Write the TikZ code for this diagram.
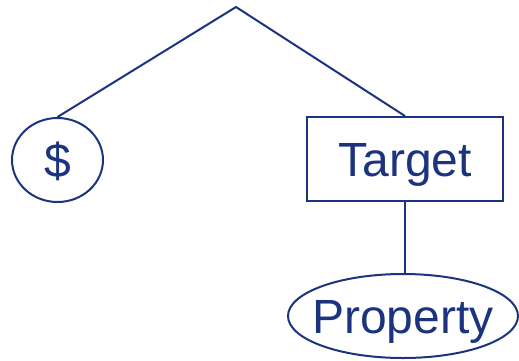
\documentclass[tikz,border=0pt]{standalone}
\usepackage{fontspec}
\setmainfont{Liberation Sans}
\usetikzlibrary{shapes.geometric}
\definecolor{navy}{RGB}{28,52,128}
\begin{document}
\begin{tikzpicture}[x=1pt,y=-1pt,
  link/.style={draw=navy,line width=2pt},
  label/.style={text=navy,font=\fontsize{48}{52}\selectfont,text height=34pt,text depth=0pt,inner sep=0pt},
  oval/.style={ellipse,draw=navy,line width=2pt,label},
  box/.style={rectangle,draw=navy,line width=2pt,label}]
  \useasboundingbox (0,0) rectangle (519,360);
  \coordinate (apex) at (236,7);
  \node[oval,minimum width=91pt,minimum height=84pt] (dollar) at (57.5,160) {\makebox[0pt]{\$}};
  \node[box,minimum width=196pt,minimum height=84pt] (target) at (405,159) {\makebox[0pt]{Target}};
  \node[oval,minimum width=230pt,minimum height=84pt] (property) at (403,316) {\makebox[0pt]{Property}};
  \draw[link,line join=miter] (dollar.north) -- (apex) -- (target.north);
  \draw[link] (target.south) -- (target.south |- property.north);
\end{tikzpicture}
\end{document}
